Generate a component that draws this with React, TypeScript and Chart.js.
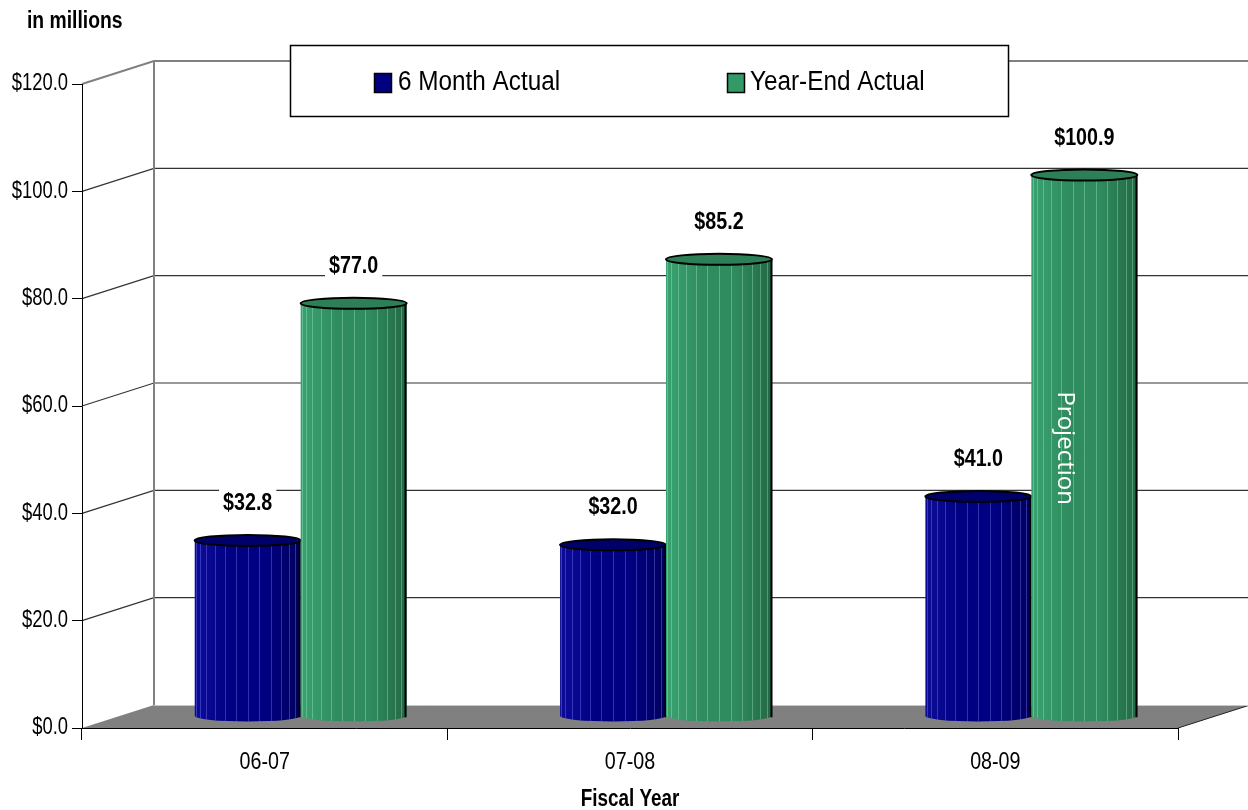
import React, { useEffect, useRef } from 'react';
import { Chart, registerables } from 'chart.js';

Chart.register(...registerables);

// ---------- data ----------
const categories = ['06-07', '07-08', '08-09'];
const sixMonthActual = [32.8, 32.0, 41.0];
const yearEndActual = [77.0, 85.2, 100.9];
const seriesNames = ['6 Month Actual', 'Year-End Actual'];
const yMin = 0;
const yMax = 120;
const yStep = 20;
const unitLabel = 'in millions';
const xAxisTitle = 'Fiscal Year';
const projectionLabel = 'Projection';
const projectionAtValue = 50;

// ---------- styling ----------
const DX = 72; // 3D depth x
const DY = 23; // 3D depth y
const MX = DX / 2;
const MY = DY / 2;
const SANS = '"Liberation Sans", Arial, sans-serif';
const SERIES_COLORS = [
  { legend: '#000080', light: '#0c0c98', mid: '#000083', dark: '#00005e', top: '#00006a', stripe: 'rgba(140,140,255,0.35)' },
  { legend: '#339966', light: '#39a270', mid: '#2f8c5e', dark: '#226844', top: '#2d7f56', stripe: 'rgba(180,240,210,0.35)' },
];

function drawText(
  ctx: CanvasRenderingContext2D, s: string, x: number, y: number, size: number, bold: boolean,
  align: CanvasTextAlign, sx: number, color = '#000',
) {
  ctx.save();
  ctx.translate(x, y);
  ctx.scale(sx, 1);
  ctx.font = (bold ? 'bold ' : '') + size + 'px ' + SANS;
  ctx.textAlign = align;
  ctx.textBaseline = 'middle';
  ctx.fillStyle = color;
  ctx.fillText(s, 0, 0);
  ctx.restore();
}

function textWidth(ctx: CanvasRenderingContext2D, s: string, size: number, bold: boolean, sx: number) {
  ctx.save();
  ctx.font = (bold ? 'bold ' : '') + size + 'px ' + SANS;
  const w = ctx.measureText(s).width * sx;
  ctx.restore();
  return w;
}

function drawCylinder(ctx: CanvasRenderingContext2D, cx: number, top: number, bottom: number, w: number, c: any) {
  const rx = w / 2;
  const ry = 5.5;
  const left = cx - rx;
  const right = cx + rx;
  ctx.save();
  ctx.beginPath();
  ctx.moveTo(left, top);
  ctx.lineTo(left, bottom);
  ctx.ellipse(cx, bottom, rx, ry, 0, Math.PI, 0, true);
  ctx.lineTo(right, top);
  ctx.closePath();
  const g = ctx.createLinearGradient(left, 0, right, 0);
  g.addColorStop(0, c.light);
  g.addColorStop(0.35, c.mid);
  g.addColorStop(0.65, c.mid);
  g.addColorStop(1, c.dark);
  ctx.fillStyle = g;
  ctx.fill();
  ctx.save();
  ctx.clip();
  ctx.strokeStyle = c.stripe;
  ctx.lineWidth = 1;
  const N = 14;
  for (let k = 1; k < N; k++) {
    const th = (k * Math.PI) / N;
    const x = Math.round(cx - rx * Math.cos(th)) + 0.5;
    ctx.beginPath();
    ctx.moveTo(x, top);
    ctx.lineTo(x, bottom + ry * Math.sin(th));
    ctx.stroke();
  }
  ctx.restore();
  ctx.lineWidth = 2;
  ctx.strokeStyle = '#000';
  ctx.stroke();
  ctx.beginPath();
  ctx.ellipse(cx, top, rx, ry, 0, 0, Math.PI * 2);
  ctx.fillStyle = c.top;
  ctx.fill();
  ctx.stroke();
  ctx.restore();
}

const box3d = {
  id: 'box3d',
  beforeDraw(chart: any) {
    const { ctx, chartArea, scales } = chart;
    const y = scales.y;
    const L = chartArea.left;
    const R = chartArea.right;
    const B = chartArea.bottom;
    const W = chart.width;
    ctx.save();
    // floor
    ctx.beginPath();
    ctx.moveTo(L, B);
    ctx.lineTo(R, B);
    ctx.lineTo(R + DX, B - DY);
    ctx.lineTo(L + DX, B - DY);
    ctx.closePath();
    ctx.fillStyle = '#808080';
    ctx.fill();
    ctx.strokeStyle = '#222';
    ctx.lineWidth = 1;
    ctx.beginPath();
    ctx.moveTo(R, B);
    ctx.lineTo(R + DX, B - DY);
    ctx.stroke();
    ctx.strokeStyle = '#c8c8c8';
    ctx.beginPath();
    ctx.moveTo(L + DX, B - DY + 0.5);
    ctx.lineTo(W + DX, B - DY + 0.5);
    ctx.stroke();
    // gridlines (back wall + side wall)
    for (let v = yMin + yStep; v < yMax; v += yStep) {
      const py = y.getPixelForValue(v);
      ctx.strokeStyle = '#333';
      ctx.lineWidth = 1.2;
      ctx.beginPath();
      ctx.moveTo(L, py);
      ctx.lineTo(L + DX, py - DY);
      ctx.lineTo(W + DX, py - DY);
      ctx.stroke();
    }
    // top frame and back wall edge
    const pt = y.getPixelForValue(yMax);
    ctx.strokeStyle = '#808080';
    ctx.lineWidth = 2;
    ctx.beginPath();
    ctx.moveTo(L, pt);
    ctx.lineTo(L + DX, pt - DY);
    ctx.lineTo(W + DX, pt - DY);
    ctx.stroke();
    ctx.beginPath();
    ctx.moveTo(L + DX, pt - DY);
    ctx.lineTo(L + DX, B - DY);
    ctx.stroke();
    ctx.restore();
  },
  afterDatasetsDraw(chart: any) {
    const { ctx, scales } = chart;
    const y = scales.y;
    const metas = chart.data.datasets.map((_: any, i: number) => chart.getDatasetMeta(i));
    const n = chart.data.labels.length;
    for (let j = 0; j < n; j++) {
      metas.forEach((meta: any, i: number) => {
        const el = meta.data[j];
        drawCylinder(ctx, el.x + MX, el.y - MY, el.base - MY, el.width, SERIES_COLORS[i]);
      });
    }
    // data labels
    metas.forEach((meta: any, i: number) => {
      meta.data.forEach((el: any, j: number) => {
        const v = chart.data.datasets[i].data[j];
        const s = '$' + v.toFixed(1);
        const cx = el.x + MX;
        const cy = el.y - MY - 37;
        const tw = textWidth(ctx, s, 24, true, 0.82);
        ctx.fillStyle = '#fff';
        ctx.fillRect(cx - tw / 2 - 4, cy - 15, tw + 8, 30);
        drawText(ctx, s, cx, cy, 24, true, 'center', 0.82);
      });
    });
    // projection annotation on last year-end bar
    const last = metas[1].data[n - 1];
    ctx.save();
    ctx.translate(last.x + MX - 26, y.getPixelForValue(projectionAtValue) - MY);
    ctx.rotate(Math.PI / 2);
    ctx.font = '24px "Open Sans", "Noto Sans", sans-serif';
    ctx.textAlign = 'center';
    ctx.textBaseline = 'alphabetic';
    ctx.fillStyle = '#fff';
    ctx.fillText(projectionLabel, 0, 0);
    ctx.restore();
  },
  afterDraw(chart: any) {
    const { ctx, scales, chartArea } = chart;
    const x = scales.x;
    const y = scales.y;
    // y tick labels
    y.ticks.forEach((t: any, i: number) => {
      const py = y.getPixelForTick(i);
      drawText(ctx, '$' + Number(t.value).toFixed(1), chartArea.left - 14, py, 23, false, 'right', 0.8);
    });
    // x tick labels
    x.ticks.forEach((t: any, i: number) => {
      const px = x.getPixelForTick(i);
      drawText(ctx, String(chart.data.labels[i]), px, chartArea.bottom + 34, 24, false, 'center', 0.82);
    });
    // x axis title
    drawText(ctx, xAxisTitle, (chartArea.left + chartArea.right) / 2, chartArea.bottom + 72, 23, true, 'center', 0.82);
    // legend
    ctx.save();
    ctx.fillStyle = '#fff';
    ctx.fillRect(290, 45, 718, 71);
    ctx.strokeStyle = '#000';
    ctx.lineWidth = 1.5;
    ctx.strokeRect(290.5, 45.5, 718, 71);
    const items = [
      { sx: 374, tx: 398 },
      { sx: 727, tx: 750 },
    ];
    seriesNames.forEach((name, i) => {
      ctx.fillStyle = SERIES_COLORS[i].legend;
      ctx.fillRect(items[i].sx, 73, 17, 19);
      ctx.lineWidth = 1.5;
      ctx.strokeRect(items[i].sx + 0.5, 73.5, 17, 19);
      drawText(ctx, name, items[i].tx, 83, 27, false, 'left', 0.9);
    });
    ctx.restore();
    // unit label
    drawText(ctx, unitLabel, 27, 22, 23, true, 'left', 0.84);
  },
};

export default function App() {
  const ref = useRef<HTMLCanvasElement | null>(null);
  useEffect(() => {
    if (!ref.current) return;
    const chart = new Chart(ref.current, {
      type: 'bar',
      data: {
        labels: categories,
        datasets: [
          { label: seriesNames[0], data: sixMonthActual, backgroundColor: 'rgba(0,0,0,0)', borderWidth: 0 },
          { label: seriesNames[1], data: yearEndActual, backgroundColor: 'rgba(0,0,0,0)', borderWidth: 0 },
        ],
      },
      options: {
        animation: false,
        responsive: true,
        maintainAspectRatio: false,
        layout: { padding: { top: 84, right: 70, left: 0, bottom: 0 } },
        datasets: { bar: { categoryPercentage: 0.58, barPercentage: 1.0 } },
        plugins: { legend: { display: false }, tooltip: { enabled: false }, title: { display: false } },
        scales: {
          x: {
            afterFit: (s: any) => { s.height = 82; },
            grid: { drawOnChartArea: false, color: '#000', tickLength: 12, offset: true },
            border: { color: '#000', width: 1 },
            ticks: { display: false },
          },
          y: {
            min: yMin,
            max: yMax,
            afterFit: (s: any) => { s.width = 82; },
            grid: { drawOnChartArea: false, color: '#000', tickLength: 10 },
            border: { color: '#000', width: 1 },
            ticks: { display: false, stepSize: yStep },
          },
        },
      },
      plugins: [box3d],
    });
    return () => chart.destroy();
  }, []);
  return (
    <div style={{ position: 'absolute', left: 0, top: 0, width: 1248, height: 810, background: '#fff' }}>
      <canvas ref={ref} />
    </div>
  );
}
